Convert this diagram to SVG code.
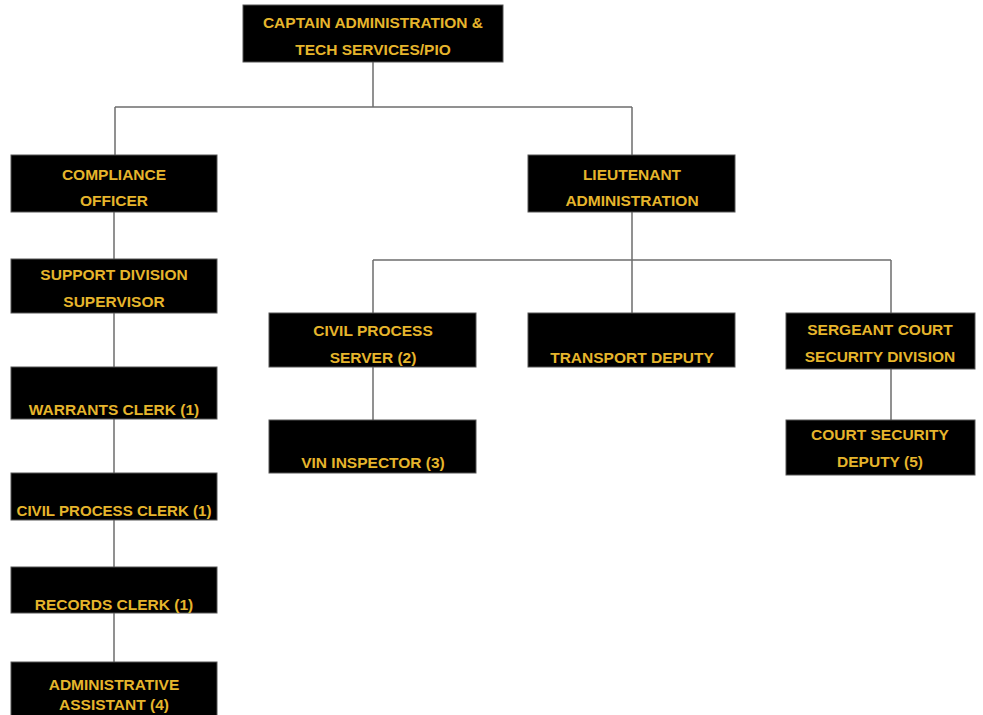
<svg xmlns="http://www.w3.org/2000/svg" width="983" height="715" viewBox="0 0 983 715">
<style>
.box{fill:#000;stroke:#555;stroke-width:1}
.t{fill:#e6b52c;font-family:"Liberation Sans",Arial,sans-serif;font-weight:bold;font-size:15.5px;text-anchor:middle}
.c{fill:none;stroke:#6e6e6e;stroke-width:1.5}
</style>
<rect width="983" height="715" fill="#fff"/>
<g id="connectors">
<path class="c" d="M373 62V107M115 107H632M115 107V155M632 107V155"/>
<path class="c" d="M114 212V259M114 313V367M114 419V473M114 520V567M114 613V662"/>
<path class="c" d="M632 212V313M373 260H891M373 260V313M891 260V313"/>
<path class="c" d="M373 367V420M891 369V420"/>
</g>
<g id="captain"><rect class="box" x="243" y="5" width="260" height="57"/><text class="t" x="373" y="28">CAPTAIN ADMINISTRATION &amp;</text><text class="t" x="373" y="55">TECH SERVICES/PIO</text></g>
<g id="compliance"><rect class="box" x="11" y="155" width="206" height="57"/><text class="t" x="114" y="180">COMPLIANCE</text><text class="t" x="114" y="206">OFFICER</text></g>
<g id="lieutenant"><rect class="box" x="528" y="155" width="207" height="57"/><text class="t" x="632" y="180">LIEUTENANT</text><text class="t" x="632" y="206">ADMINISTRATION</text></g>
<g id="support"><rect class="box" x="11" y="259" width="206" height="54"/><text class="t" x="114" y="280">SUPPORT DIVISION</text><text class="t" x="114" y="307">SUPERVISOR</text></g>
<g id="warrants"><rect class="box" x="11" y="367" width="206" height="52"/><text class="t" x="114" y="415">WARRANTS CLERK (1)</text></g>
<g id="civilclerk"><rect class="box" x="11" y="473" width="206" height="47"/><text class="t" x="114" y="516" textLength="195" lengthAdjust="spacingAndGlyphs">CIVIL PROCESS CLERK (1)</text></g>
<g id="records"><rect class="box" x="11" y="567" width="206" height="46"/><text class="t" x="114" y="610">RECORDS CLERK (1)</text></g>
<g id="adminassistant"><rect class="box" x="11" y="662" width="206" height="56"/><text class="t" x="114" y="690">ADMINISTRATIVE</text><text class="t" x="114" y="710">ASSISTANT (4)</text></g>
<g id="civilserver"><rect class="box" x="269" y="313" width="207" height="54"/><text class="t" x="373" y="336">CIVIL PROCESS</text><text class="t" x="373" y="363">SERVER (2)</text></g>
<g id="transport"><rect class="box" x="528" y="313" width="207" height="54"/><text class="t" x="632" y="363">TRANSPORT DEPUTY</text></g>
<g id="sergeant"><rect class="box" x="786" y="313" width="189" height="56"/><text class="t" x="880" y="335">SERGEANT COURT</text><text class="t" x="880" y="362">SECURITY DIVISION</text></g>
<g id="vin"><rect class="box" x="269" y="420" width="207" height="53"/><text class="t" x="373" y="468">VIN INSPECTOR (3)</text></g>
<g id="courtdeputy"><rect class="box" x="786" y="420" width="189" height="55"/><text class="t" x="880" y="440">COURT SECURITY</text><text class="t" x="880" y="467">DEPUTY (5)</text></g>
</svg>
